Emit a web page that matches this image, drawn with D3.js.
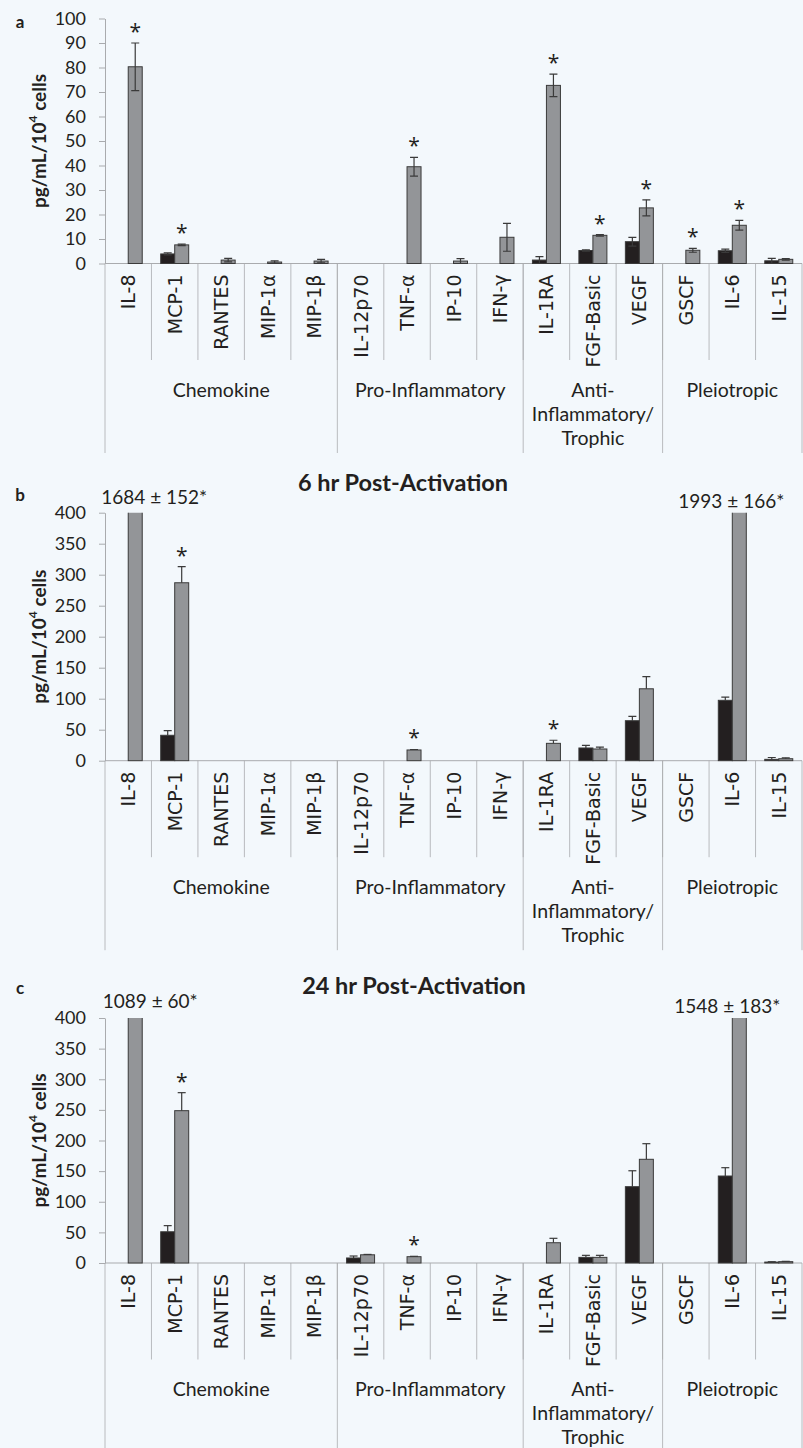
<!DOCTYPE html>
<html>
<head>
<meta charset="utf-8">
<script src="https://cdn.jsdelivr.net/npm/d3@7"></script>
<style>
  html, body { margin: 0; padding: 0; background: #f3f8fc; }
  svg { display: block; }
</style>
</head>
<body>
<svg id="fig" width="803" height="1448"></svg>
<script>
// ---- Data ---------------------------------------------------------------
const cytokines = ["IL-8", "MCP-1", "RANTES", "MIP-1α", "MIP-1β", "IL-12p70", "TNF-α",
                   "IP-10", "IFN-γ", "IL-1RA", "FGF-Basic", "VEGF", "GSCF", "IL-6", "IL-15"];
const groupNames = [["Chemokine"], ["Pro-Inflammatory"], ["Anti-", "Inflammatory/", "Trophic"], ["Pleiotropic"]];
const groupSizes = [5, 4, 3, 3];
const seriesKeys = ["resting", "activated"];

const ticksBaseline = [0, 10, 20, 30, 40, 50, 60, 70, 80, 90, 100];
const ticksActivated = [0, 50, 100, 150, 200, 250, 300, 350, 400];

// (a) baseline secretion
const baseResting       = [0, 3.9, 0, 0, 0, 0, 0, 0, 0, 1.4, 5.3, 8.9, 0, 5.2, 1.1];
const baseRestingErr    = [0, 0.4, 0, 0, 0, 0, 0, 0, 0, 1.4, 0.3, 1.8, 0, 0.7, 1.0];
const baseActivated     = [80.3, 7.6, 1.4, 0.6, 1.0, 0, 39.5, 1.0, 10.7, 72.7, 11.5, 22.7, 5.4, 15.6, 1.7];
const baseActivatedErr  = [9.7, 0.3, 0.7, 0.5, 0.7, 0, 3.8, 1.0, 5.7, 4.6, 0.3, 3.3, 0.8, 2.0, 0.3];
const baseStars = ["IL-8", "MCP-1", "TNF-α", "IL-1RA", "FGF-Basic", "VEGF", "GSCF", "IL-6"];

// (b) 6 hr post-activation
const h6Resting      = [0, 41, 0, 0, 0, 0, 0, 0, 0, 0, 20.5, 64.5, 0, 97.4, 2.2];
const h6RestingErr   = [0, 7.4, 0, 0, 0, 0, 0, 0, 0, 0, 4.3, 7.0, 0, 5.3, 3.0];
const h6Activated    = [1684, 287, 0, 0, 0, 0, 17.3, 0, 0, 28, 18.9, 116, 0, 1993, 3.2];
const h6ActivatedErr = [152, 26, 0, 0, 0, 0, 0.8, 0, 0, 5.0, 3.0, 19.5, 0, 166, 1.5];
const h6Stars = ["MCP-1", "TNF-α", "IL-1RA"];

// (c) 24 hr post-activation
const h24Resting      = [0, 51, 0, 0, 0, 8.2, 0, 0, 0, 0, 9.2, 124.6, 0, 142, 1.5];
const h24RestingErr   = [0, 10, 0, 0, 0, 3.2, 0, 0, 0, 0, 3.3, 26, 0, 13.6, 0.6];
const h24Activated    = [1089, 248.7, 0, 0, 0, 13.4, 10.3, 0, 0, 33.1, 9.2, 169.3, 0, 1548, 2.2];
const h24ActivatedErr = [60, 29.4, 0, 0, 0, 0.6, 0.6, 0, 0, 7.2, 3.3, 25.5, 0, 183, 0.5];
const h24Stars = ["MCP-1", "TNF-α"];

// ---- Layout --------------------------------------------------------------
const W = 803, H = 1448;
const left = 105, right = 802;
const colors = { resting: "#231f20", activated: "#939598" };
const ink = "#231f20";
const axisGrey = "#a9abae";
const numFont = "Lato, 'Open Sans', sans-serif";
const catFont = "'DejaVu Sans', Verdana, sans-serif";
const starFont = "'Open Sans', 'DejaVu Sans', sans-serif";

const panels = [
  { letter: "a", letterY: 21, title: null, top: 18.5, base: 263.5, ticks: ticksBaseline,
    resting: baseResting, restingErr: baseRestingErr, activated: baseActivated, activatedErr: baseActivatedErr,
    stars: baseStars, errBoth: true, groupDrop: 189.5, offShift: {} },
  { letter: "b", letterY: 494, title: "6 hr Post-Activation", titleX: 403, titleY: 482, top: 512.7, base: 760.7,
    ticks: ticksActivated,
    resting: h6Resting, restingErr: h6RestingErr, activated: h6Activated, activatedErr: h6ActivatedErr,
    stars: h6Stars, errBoth: false, groupDrop: 189.5,
    offShift: { "IL-8": [19, -16], "IL-6": [-8, -12] } },
  { letter: "c", letterY: 987, title: "24 hr Post-Activation", titleX: 414, titleY: 985, top: 1018, base: 1263,
    ticks: ticksActivated,
    resting: h24Resting, restingErr: h24RestingErr, activated: h24Activated, activatedErr: h24ActivatedErr,
    stars: h24Stars, errBoth: false, groupDrop: 200,
    offShift: { "IL-8": [15, -18], "IL-6": [-12, -13] } }
];

const svg = d3.select("#fig");
svg.append("rect").attr("width", W).attr("height", H).attr("fill", "#f3f8fc");

const x0 = d3.scaleBand().domain(cytokines).range([left, right]).padding(0);
const x1 = d3.scaleBand().domain(seriesKeys).range([0, x0.bandwidth()])
  .paddingInner(0).paddingOuter(0.66);

// group boundaries in category index units
const groupStarts = groupSizes.reduce((acc, n) => { acc.push(acc[acc.length - 1] + n); return acc; }, [0]);

panels.forEach((p) => {
  const yMax = p.ticks[p.ticks.length - 1];
  const y = d3.scaleLinear().domain([0, yMax]).range([p.base, p.top]);
  const g = svg.append("g").attr("class", "panel-" + p.letter);

  // panel letter
  g.append("text").attr("x", 20).attr("y", p.letterY)
    .attr("dominant-baseline", "central").attr("text-anchor", "middle")
    .attr("font-family", numFont).attr("font-weight", 700).attr("font-size", 17)
    .attr("fill", ink).text(p.letter);

  // title
  if (p.title) {
    g.append("text").attr("x", p.titleX).attr("y", p.titleY)
      .attr("dominant-baseline", "central").attr("text-anchor", "middle")
      .attr("font-family", numFont).attr("font-weight", 700).attr("font-size", 23.5)
      .attr("fill", ink).text(p.title);
  }

  // y axis
  const yAxis = d3.axisLeft(y).tickValues(p.ticks).tickSize(6).tickSizeOuter(0).tickPadding(13)
    .tickFormat(d3.format("d"));
  const ya = g.append("g").attr("transform", `translate(${left},0)`).call(yAxis);
  ya.select(".domain").attr("stroke", axisGrey);
  ya.selectAll(".tick line").attr("stroke", axisGrey);
  ya.selectAll(".tick text").attr("font-family", numFont).attr("font-size", 18).attr("fill", ink);

  // y axis title
  const yt = g.append("text")
    .attr("transform", `translate(38,${(p.top + p.base) / 2}) rotate(-90)`)
    .attr("text-anchor", "middle").attr("dominant-baseline", "central")
    .attr("font-family", numFont).attr("font-weight", 700).attr("font-size", 19).attr("fill", ink);
  yt.append("tspan").text("pg/mL/10");
  yt.append("tspan").attr("font-size", 12).attr("dy", -6).text("4");
  yt.append("tspan").attr("dy", 6).text(" cells");

  // x axis line
  g.append("line").attr("x1", left).attr("x2", right).attr("y1", p.base).attr("y2", p.base)
    .attr("stroke", axisGrey).attr("stroke-width", 1);

  // category dividers
  const bounds = d3.range(1, cytokines.length);
  g.selectAll("line.cat").data(bounds).join("line")
    .attr("x1", i => left + i * x0.step()).attr("x2", i => left + i * x0.step())
    .attr("y1", p.base).attr("y2", p.base + 96.5)
    .attr("stroke", axisGrey).attr("stroke-width", 0.8);

  // group dividers
  g.selectAll("line.grp").data(groupStarts).join("line")
    .attr("x1", i => left + i * x0.step()).attr("x2", i => left + i * x0.step())
    .attr("y1", p.base).attr("y2", p.base + p.groupDrop)
    .attr("stroke", axisGrey).attr("stroke-width", 0.8);

  // category labels
  g.selectAll("text.cat").data(cytokines).join("text")
    .attr("transform", d => `translate(${x0(d) + x0.bandwidth() / 2},${p.base + 11}) rotate(-90)`)
    .attr("text-anchor", "end").attr("dominant-baseline", "central")
    .attr("font-family", catFont).attr("font-size", 19).attr("fill", ink)
    .text(d => d);

  // group labels
  groupNames.forEach((lines, gi) => {
    const cx = left + (groupStarts[gi] + groupStarts[gi + 1]) / 2 * x0.step();
    lines.forEach((ln, li) => {
      g.append("text").attr("x", cx).attr("y", p.base + 125.5 + li * 24)
        .attr("text-anchor", "middle").attr("dominant-baseline", "central")
        .attr("font-family", numFont).attr("font-size", 19.5).attr("fill", ink).text(ln);
    });
  });

  // clip for bars that run past the top of the scale
  const clipId = "clip-" + p.letter;
  svg.append("clipPath").attr("id", clipId).append("rect")
    .attr("x", left).attr("y", p.top).attr("width", right - left).attr("height", p.base - p.top + 1);

  const rows = [];
  cytokines.forEach((c, i) => {
    rows.push({ c, key: "resting", v: p.resting[i], e: p.restingErr[i] });
    rows.push({ c, key: "activated", v: p.activated[i], e: p.activatedErr[i] });
  });
  const visible = rows.filter(r => r.v > 0);

  const plot = g.append("g").attr("clip-path", `url(#${clipId})`);

  plot.selectAll("rect.bar").data(visible).join("rect")
    .attr("x", r => x0(r.c) + x1(r.key))
    .attr("width", x1.bandwidth())
    .attr("y", r => y(r.v))
    .attr("height", r => p.base - y(r.v))
    .attr("fill", r => colors[r.key])
    .attr("stroke", "#3a3a3a").attr("stroke-width", 1);

  // error bars
  const errRows = visible.filter(r => r.e > 0);
  const eg = plot.selectAll("g.err").data(errRows).join("g").attr("stroke", "#3a3a3a").attr("stroke-width", 1.2);
  eg.each(function (r) {
    const cx = x0(r.c) + x1(r.key) + x1.bandwidth() / 2;
    const yTop = y(r.v + r.e);
    const yBot = p.errBoth ? y(Math.max(0, r.v - r.e)) : y(r.v);
    const s = d3.select(this);
    s.append("line").attr("x1", cx).attr("x2", cx).attr("y1", yTop).attr("y2", yBot);
    s.append("line").attr("x1", cx - 4).attr("x2", cx + 4).attr("y1", yTop).attr("y2", yTop);
    if (p.errBoth) s.append("line").attr("x1", cx - 4).attr("x2", cx + 4).attr("y1", yBot).attr("y2", yBot);
  });

  // significance stars
  p.stars.forEach(c => {
    const i = cytokines.indexOf(c);
    const v = p.activated[i], e = p.activatedErr[i];
    const cx = x0(c) + x1("activated") + x1.bandwidth() / 2;
    g.append("text").attr("x", cx).attr("y", y(v + e) - 4)
      .attr("text-anchor", "middle")
      .attr("font-family", starFont).attr("font-size", 21).attr("fill", ink).text("*");
  });

  // values for bars that exceed the axis
  cytokines.forEach((c, i) => {
    const v = p.activated[i];
    if (v <= yMax) return;
    const sh = p.offShift[c] || [0, -14];
    const cx = x0(c) + x1("activated") + x1.bandwidth() / 2;
    g.append("text").attr("x", cx + sh[0]).attr("y", p.top + sh[1])
      .attr("text-anchor", "middle").attr("dominant-baseline", "central")
      .attr("font-family", numFont).attr("font-size", 19).attr("fill", ink)
      .text(`${v} ± ${p.activatedErr[i]}*`);
  });
});
</script>
</body>
</html>
